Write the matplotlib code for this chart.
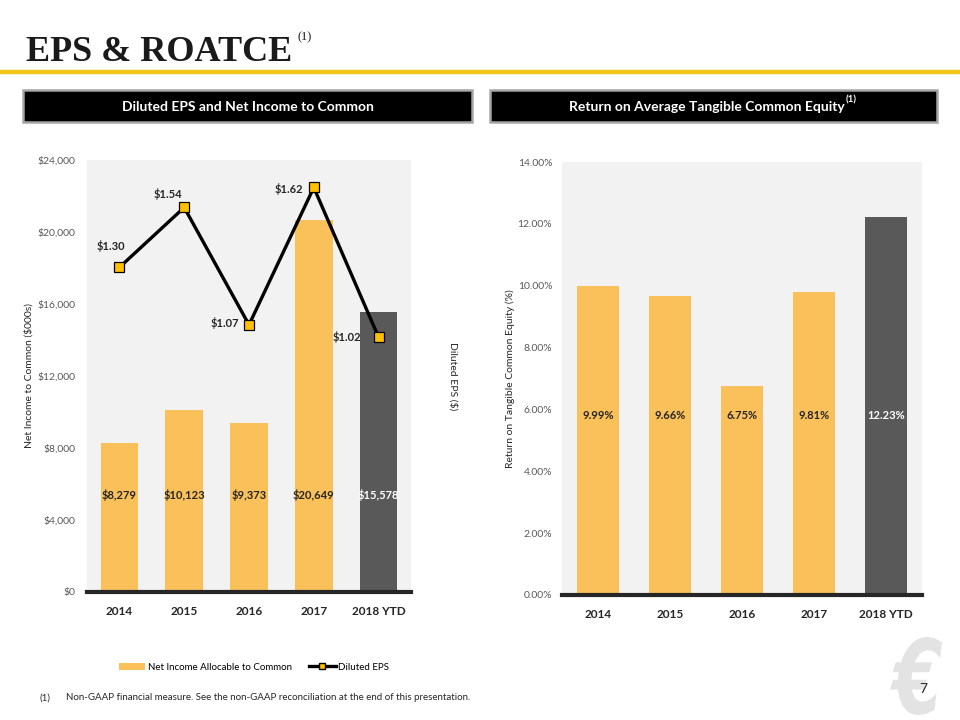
import numpy as np
import matplotlib
matplotlib.use("Agg")
import matplotlib.pyplot as plt
from matplotlib.ticker import FuncFormatter, MultipleLocator
from matplotlib.patches import Rectangle, Patch, PathPatch
from matplotlib.lines import Line2D
from matplotlib.textpath import TextPath
from matplotlib.font_manager import FontProperties
from matplotlib.transforms import Affine2D

# Data ---------------------------------------------
years = ['2014', '2015', '2016', '2017', '2018 YTD']
net_income = [8279, 10123, 9373, 20649, 15578]
eps = [1.30, 1.54, 1.07, 1.62, 1.02]
roatce = [9.99, 9.66, 6.75, 9.81, 12.23]

# Style --------------------------------------------
plt.rcParams['font.family'] = ['Lato', 'DejaVu Sans']
YEL = '#FAC05A'
GRY = '#595959'
BG = '#F2F2F2'
TXT = '#262626'
bar_colors = [YEL] * 4 + [GRY]

fig = plt.figure(figsize=(9.6, 7.2), dpi=100)
W, H = 960.0, 720.0

def fx(px):
    return px / W

def fy(py):
    return 1 - py / H

# logo drawn as a shape (behind everything)
logo = TextPath((0, 0), '\u20ac', size=1,
                prop=FontProperties(family='DejaVu Sans', weight='bold', style='italic'))
lb = logo.get_extents()
sx = 52 / lb.width
sy = 78 / lb.height
tr = Affine2D().translate(-lb.x0, -lb.y0).scale(sx, sy).translate(890, H - 715)
fig.add_artist(PathPatch(tr.transform_path(logo), facecolor='#E3E3E3',
                         edgecolor='none', transform=None, zorder=0))

# Title + rule -------------------------------------
fig.text(fx(26), fy(61), 'EPS & ROATCE', family='Liberation Serif',
         weight='bold', fontsize=26, color='#1a1a1a', va='baseline')
fig.add_artist(Line2D([0, 1], [fy(72), fy(72)], color='#F2C414', lw=3.2))
fig.text(fx(298), fy(40), '(1)', family='Liberation Serif', fontsize=9,
         color='#1a1a1a', va='baseline')

# Header boxes --------------------------------------
def header(x0, x1, label, cx=None):
    fig.add_artist(Rectangle((fx(x0), fy(122)), fx(x1 - x0), (122 - 90) / H,
                             transform=fig.transFigure, facecolor='black',
                             edgecolor='#A6A6A6', lw=1.8))
    if cx is None:
        cx = (x0 + x1) / 2
    return fig.text(fx(cx), fy(107), label, color='white',
                    weight='bold', fontsize=10, ha='center', va='center')

header(23, 472, 'Diluted EPS and Net Income to Common')
h2 = header(490, 937, 'Return on Average Tangible Common Equity', cx=707)
fig.canvas.draw()
bb = h2.get_window_extent()
fig.text(fx(bb.x1 + 1), fy(104), '(1)', color='white', weight='bold',
         fontsize=7, ha='left', va='bottom')

# Left chart ---------------------------------------
ax1 = fig.add_axes([fx(87), fy(592), fx(411 - 87), (592 - 160) / H])
x = np.arange(len(years))
ax1.set_facecolor(BG)
ax1.bar(x, net_income, width=0.58, color=bar_colors, zorder=2)
ax1.set_xlim(-0.5, len(years) - 0.5)
ax1.set_ylim(0, 24000)
ax1.yaxis.set_major_locator(MultipleLocator(4000))
ax1.yaxis.set_major_formatter(FuncFormatter(lambda v, p: '${:,.0f}'.format(v)))
ax1.set_xticks(x)
ax1.set_xticklabels(years, fontsize=8.5, weight='bold', color=TXT)
ax1.tick_params(axis='y', length=0, labelsize=7.5, labelcolor=GRY, pad=8)
ax1.tick_params(axis='x', length=0, pad=10)
for s in ['top', 'left', 'right']:
    ax1.spines[s].set_visible(False)
ax1.spines['bottom'].set_color(TXT)
ax1.spines['bottom'].set_linewidth(3)
ax1.set_ylabel('Net Income to Common ($000s)', fontsize=7.5, color=TXT, labelpad=3)
for i, v in enumerate(net_income):
    ax1.text(x[i], 5400, '${:,.0f}'.format(v), ha='center', va='center',
             fontsize=8, weight='bold',
             color='white' if i == len(years) - 1 else TXT, zorder=3)

ax1b = ax1.twinx()
ax1b.set_ylim(0, 1.73)
ax1b.plot(x, eps, color='black', lw=2.4, marker='s', markersize=7,
          markerfacecolor='#FFC000', markeredgecolor='black',
          markeredgewidth=0.9, zorder=4)
ax1b.set_yticks([])
for s in ax1b.spines.values():
    s.set_visible(False)
ax1b.set_ylabel('Diluted EPS ($)', fontsize=7.5, color=TXT, rotation=270,
                labelpad=30, va='center')
offs = [(-9, 21), (-16, 13), (-24, 2), (-25, -2), (-32, 0)]
for i, v in enumerate(eps):
    ax1b.annotate('${:.2f}'.format(v), xy=(x[i], v), xytext=offs[i],
                  textcoords='offset pixels', ha='center', va='center',
                  fontsize=8, weight='bold', color=TXT, zorder=5)

# Legend -------------------------------------------
handles = [Patch(facecolor=YEL, edgecolor='none'),
           Line2D([0], [0], color='black', lw=2.4, marker='s', markersize=4,
                  markerfacecolor='#FFC000', markeredgecolor='black')]
fig.legend(handles, ['Net Income Allocable to Common', 'Diluted EPS'],
           loc='center', bbox_to_anchor=(fx(254), fy(667)), ncol=2,
           frameon=False, fontsize=7, handlelength=2.7, handleheight=0.7,
           columnspacing=1.8, handletextpad=0.25)

# Right chart --------------------------------------
ax2 = fig.add_axes([fx(562), fy(595), fx(922 - 562), (595 - 162) / H])
ax2.set_facecolor(BG)
ax2.bar(x, roatce, width=0.57, color=bar_colors, zorder=2)
ax2.set_xlim(-0.5, len(years) - 0.5)
ax2.set_ylim(0, 14)
ax2.yaxis.set_major_locator(MultipleLocator(2))
ax2.yaxis.set_major_formatter(FuncFormatter(lambda v, p: '{:.2f}%'.format(v)))
ax2.set_xticks(x)
ax2.set_xticklabels(years, fontsize=8.5, weight='bold', color=TXT)
ax2.tick_params(axis='y', length=0, labelsize=7.5, labelcolor=GRY, pad=7)
ax2.tick_params(axis='x', length=0, pad=10)
for s in ['top', 'left', 'right']:
    ax2.spines[s].set_visible(False)
ax2.spines['bottom'].set_color(TXT)
ax2.spines['bottom'].set_linewidth(3)
ax2.set_ylabel('Return on Tangible Common Equity (%)', fontsize=7.5,
               color=TXT, labelpad=2)
for i, v in enumerate(roatce):
    ax2.text(x[i], 5.8, '{:.2f}%'.format(v), ha='center', va='center',
             fontsize=8, weight='bold',
             color='white' if i == len(years) - 1 else TXT, zorder=3)

# Footnote, page number ----------------------------
fig.text(fx(40), fy(698), '(1)', fontsize=7, color=TXT, va='center')
fig.text(fx(66), fy(698),
         'Non-GAAP financial measure. See the non-GAAP reconciliation at the end of this presentation.',
         fontsize=7, color=TXT, va='center')
fig.text(fx(923), fy(689), '7', fontsize=10, color=TXT, ha='center', va='center')

fig.savefig('out.png', dpi=100)
